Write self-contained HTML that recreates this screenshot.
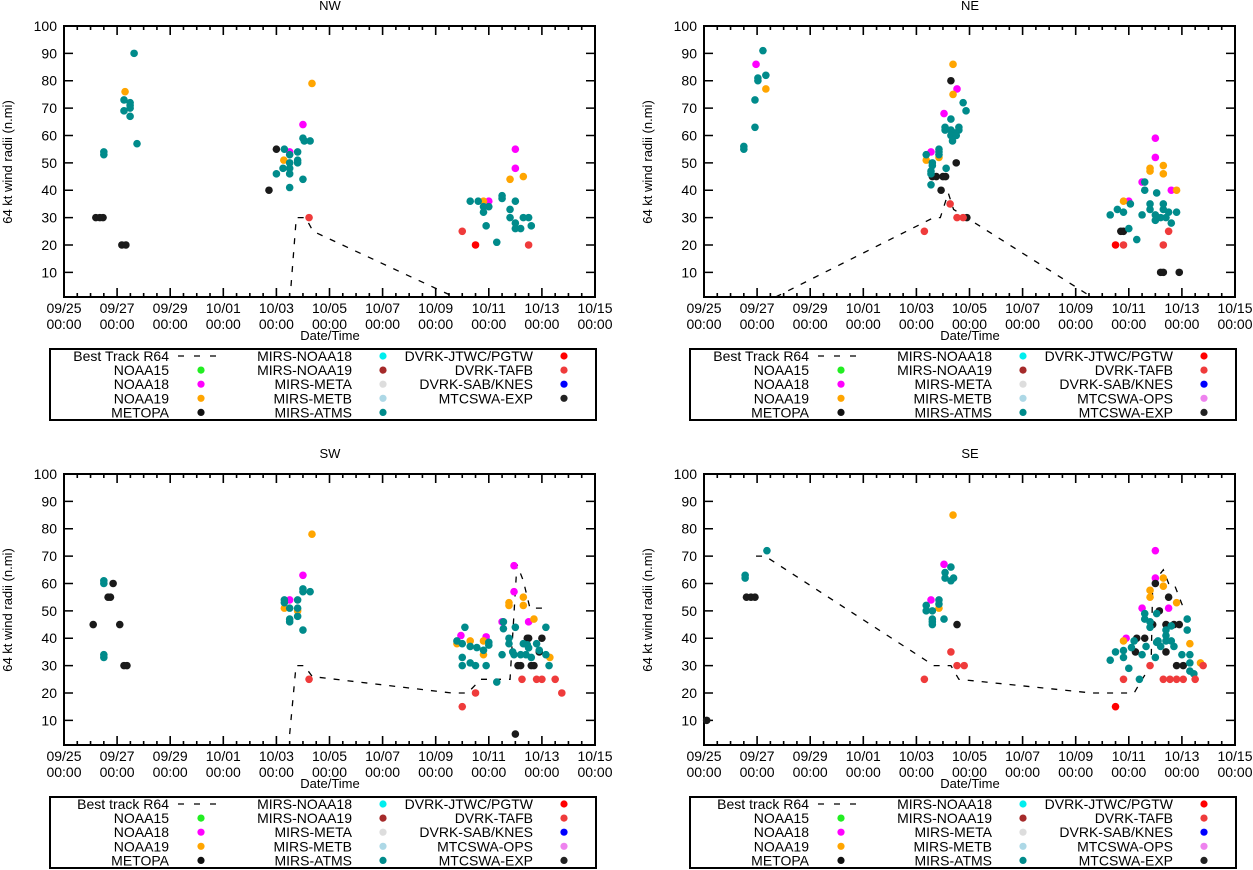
<!DOCTYPE html>
<html><head><meta charset="utf-8">
<style>
html,body{margin:0;padding:0;background:#fff;}
svg{display:block;font-family:"Liberation Sans",sans-serif;}
</style></head>
<body>
<svg id="chart" width="1253" height="870" viewBox="0 0 1253 870" xmlns="http://www.w3.org/2000/svg">
<defs>
<clipPath id="clipL"><rect x="64" y="26" width="531" height="271"/></clipPath>
</defs>
</svg>
<script>
// x values = days since 09/25 00:00, y values = 64 kt wind radii (n.mi)
const xTickLabels = ["09/25","09/27","09/29","10/01","10/03","10/05","10/07","10/09","10/11","10/13","10/15"];
const yTicks = [10,20,30,40,50,60,70,80,90,100];

const NW_bt = [[8.55,5],[8.75,30],[9.1,30],[9.38,25],[14.7,1]];
const NW_n18 = [[8.5,54],[9.0,64],[17.0,55],[17.0,48],[16.0,36]];
const NW_n19 = [[2.3,76],[8.28,51],[9.34,79],[16.8,44],[17.3,45],[15.8,36]];
const NW_blk = [[1.2,30],[1.35,30],[1.47,30],[2.18,20],[2.33,20],[7.72,40],[8.0,55]];
const NW_atms = [[1.5,54],[1.5,53],[2.64,90],[2.26,73],[2.49,72],[2.49,71],[2.26,69],[2.49,70],[2.49,67],[2.75,57],[8.3,55],[8.0,46],[8.25,48],[8.5,50],[8.5,46],[8.5,41],[8.8,51],[8.8,50],[8.8,54],[9.0,44],[9.0,59],[9.27,58],[9.05,58],[8.5,53],[8.5,48],[15.3,36],[15.6,36],[15.8,34],[16.0,34],[15.8,32],[16.5,38],[16.5,37],[17.0,36],[16.8,33],[16.8,30],[17.3,30],[17.5,30],[17.0,28],[17.0,26],[17.2,26],[17.6,27],[15.9,27],[16.3,21]];
const NW_tafb = [[9.23,30],[15.0,25],[17.5,20]];
const NW_jtwc = [[15.5,20]];

const NE_bt = [[2.7,1],[8.65,30],[8.9,30],[9.2,39],[9.4,33],[14.6,1]];
const NE_n18 = [[1.96,86],[9.53,77],[9.04,68],[8.55,54],[17.0,59],[17.0,52],[16.5,43],[17.6,40],[16.0,36]];
const NE_n19 = [[2.33,77],[9.38,86],[9.38,75],[8.37,51],[8.85,52],[16.8,48],[16.8,47],[17.3,49],[17.3,46],[17.8,40],[15.8,36]];
const NE_blk = [[9.3,80],[8.6,45],[8.75,45],[9.0,45],[9.1,45],[9.5,50],[8.93,40],[9.9,30],[15.7,25],[15.8,25],[17.2,10],[17.3,10],[17.9,10]];
const NE_atms = [[1.5,56],[1.5,55],[1.92,63],[1.92,73],[2.03,80],[2.03,81],[2.33,82],[2.22,91],[9.76,72],[9.87,69],[9.3,66],[9.08,63],[9.08,62],[9.3,62],[9.4,61],[9.6,63],[9.6,62],[9.3,60],[9.5,60],[9.36,58],[8.37,53],[8.85,55],[8.85,54],[8.85,53],[8.6,50],[8.6,49],[8.55,47],[9.12,48],[8.55,46],[8.55,42],[16.6,43],[16.6,40],[17.05,39],[16.06,35],[15.57,33],[15.3,31],[15.8,32],[16.5,31],[16.8,35],[16.8,33],[17.3,35],[17.3,33],[17.0,31],[17.0,29],[17.2,30],[17.5,32],[17.8,32],[17.6,28],[17.4,30],[16.0,26],[16.3,22]];
const NE_tafb = [[9.27,35],[9.53,30],[9.76,30],[8.3,25],[15.8,20],[17.5,25],[17.3,20]];
const NE_jtwc = [[15.5,20]];

const SW_bt = [[8.5,5],[8.74,30],[9.05,30],[9.35,26],[14.6,20],[15.2,20],[15.7,25],[16.8,25],[17.06,67],[17.3,61],[17.55,51],[18.2,51]];
const SW_n18 = [[9.0,63],[8.5,54],[16.95,66.5],[16.95,57],[14.95,41],[15.9,40.5],[17.5,46],[16.5,46]];
const SW_n19 = [[9.34,78],[8.3,51],[8.8,50],[16.76,53],[16.76,52],[17.3,55],[17.3,52],[17.7,47],[15.3,39],[15.8,39],[14.8,38],[15.8,34],[18.3,33]];
const SW_blk = [[1.85,60],[1.66,55],[1.75,55],[1.1,45],[2.1,45],[2.26,30],[2.37,30],[17.45,40],[17.5,40],[18.0,40],[17.9,35],[17.1,30],[17.2,30],[17.6,30],[17.7,30],[17.0,5]];
const SW_atms = [[1.5,61],[1.5,60],[1.5,34],[1.5,33],[9.0,58],[9.0,57],[9.27,57],[8.3,54],[8.3,53],[8.5,51],[8.8,54],[8.8,51],[8.8,48],[8.5,47],[8.5,46],[9.0,43],[15.1,44],[14.8,39],[15.0,38],[15.3,37],[15.55,36.6],[15.8,35.6],[16.0,38.5],[16.0,37.5],[15.0,33],[15.0,30],[15.3,31],[15.5,30],[15.9,30],[16.5,34],[16.3,24],[16.55,46],[16.55,43.5],[17.0,44],[16.76,40],[16.76,38],[16.9,35],[16.95,34],[17.2,34],[17.3,38],[17.45,37.6],[17.5,36.5],[17.8,38],[17.9,35.6],[18.15,34],[18.15,44],[18.27,30],[17.4,34],[17.6,33]];
const SW_tafb = [[9.23,25],[17.25,25],[17.8,25],[18.0,25],[18.5,25],[18.75,20],[15.5,20],[15.0,15]];
const SW_jtwc = [];

const SE_bt = [[1.96,70],[2.3,70],[8.66,30],[9.3,30],[9.6,25],[14.6,20],[16.2,20],[16.5,25],[16.84,30],[16.9,60],[17.3,65],[17.5,60],[17.7,60],[18.1,50]];
const SE_n18 = [[9.04,67],[8.55,54],[17.0,72],[17.0,62],[16.5,51],[17.5,51],[15.9,40]];
const SE_n19 = [[9.38,85],[8.85,51],[17.3,62],[17.3,59],[16.8,57.5],[16.8,55],[17.8,53],[15.8,39],[18.3,38],[18.7,31]];
const SE_blk = [[0.1,10],[1.6,55],[1.77,55],[1.92,55],[9.53,45],[17.0,60],[17.5,55],[17.15,50],[16.9,45],[17.4,45],[17.7,45],[17.9,45],[16.3,40],[16.6,40],[16.25,35],[17.4,35],[17.8,30],[18.05,30]];
const SE_atms = [[1.55,63],[1.55,62],[2.37,72],[9.3,66],[9.08,64],[9.08,62],[9.3,61],[9.4,62],[8.85,54],[8.85,52.5],[8.37,52],[8.37,50],[8.6,50],[8.6,47],[8.6,46],[8.6,45],[9.04,47],[16.6,49],[16.6,47],[17.05,49],[16.8,46],[16.8,44],[17.6,44.5],[18.2,47],[18.2,43],[17.4,43],[17.6,39],[17.4,39],[17.7,37],[17.05,38.5],[17.2,37],[16.65,37],[17.1,39],[16.2,39],[16.1,36.6],[15.5,35],[15.8,35.5],[15.8,33],[16.5,34],[17.0,33],[18.0,34],[18.3,34],[18.3,31],[18.3,28],[18.45,27],[15.3,32],[16.0,29],[16.4,25],[17.4,41]];
const SE_tafb = [[9.3,35],[9.53,30],[9.8,30],[8.3,25],[16.8,30],[18.8,30],[15.8,25],[17.3,25],[17.55,25],[17.8,25],[18.05,25],[18.5,25]];
const SE_jtwc = [[15.5,15]];

const NS = "http://www.w3.org/2000/svg";
const svg = document.getElementById("chart");
function mk(tag, attrs, parent){
  const e = document.createElementNS(NS, tag);
  for (const k in attrs) e.setAttribute(k, attrs[k]);
  (parent||svg).appendChild(e);
  return e;
}
const PX0=64, PX1=595, PY0=26, PY1=297, DAYS=20, YMIN=1, YMAX=100;

function drawPanel(key, title, ox, oy, btLabel, col3, sets){
  const g = mk("g",{transform:`translate(${ox},${oy})`});
  
  
  const xs = d => PX0 + d*(PX1-PX0)/DAYS;
  const ys = v => PY1 - (v-YMIN)*(PY1-PY0)/(YMAX-YMIN);

  const t = mk("text",{x:330,y:10,"text-anchor":"middle","font-size":13},g);
  t.textContent = title;
  
  

  const yl = mk("text",{x:0,y:0,"text-anchor":"middle","font-size":13,transform:"translate(12,162) rotate(-90)"},g);
  yl.textContent = "64 kt wind radii (n.mi)";
  
  

  const xl = mk("text",{x:330,y:340,"text-anchor":"middle","font-size":13},g);
  xl.textContent = "Date/Time";
  
  

  let tp = "";
  for (let i=0;i<=DAYS*2;i++){
    const x = xs(i/2), len = (i%4===0)?9:4;
    tp += `M${x},${PY1}v${-len}M${x},${PY0}v${len}`;
  }
  yTicks.forEach(v=>{ const y=ys(v); tp += `M${PX0},${y}h9M${PX1},${y}h-9`; });
  const tk = mk("path",{d:tp,stroke:"#000","stroke-width":1.6,fill:"none"},g);
  
  

  yTicks.forEach(v=>{
    const e = mk("text",{x:57,y:ys(v)+5,"text-anchor":"end","font-size":14},g);
    e.textContent = v;
    
    
  });
  xTickLabels.forEach((lab,i)=>{
    const x = xs(i*2);
    const e = mk("text",{x:x,y:313,"text-anchor":"middle","font-size":14},g);
    e.textContent = lab;
    
    
    const e2 = mk("text",{x:x,y:329,"text-anchor":"middle","font-size":14},g);
    e2.textContent = "00:00";
    
    
  });

  const clipG = mk("g",{"clip-path":"url(#clipL)"},g);
  const bt = mk("polyline",{points:sets.bt.map(p=>xs(p[0])+","+ys(p[1])).join(" "),fill:"none",stroke:"#000","stroke-width":1.3,"stroke-dasharray":"6,8"},clipG);
  
  

  const bd = mk("rect",{x:PX0,y:PY0,width:PX1-PX0,height:PY1-PY0,fill:"none",stroke:"#000","stroke-width":2},g);
  
  

  const ptG = mk("g",{},g);
  const series = [["n18","#ff00ff"],["n19","#ffa500"],["blk","#1a1a1a"],["atms","#008b8b"],["jtwc","#ff0000"],["tafb","#ef3b3b"]];
  series.forEach(([s,c])=>{
    sets[s].forEach(p=>{
      const d = mk("circle",{cx:xs(p[0]),cy:ys(p[1]),r:3.8,fill:c},ptG);
      
      
    });
  });

  const lg = mk("g",{},g);
  
  
  mk("rect",{x:50,y:349,width:546,height:71,fill:"#fff",stroke:"#000","stroke-width":2},lg);
  const cols = [
    {end:169, dot:201, items:[[btLabel,"line"],["NOAA15","#22ee22"],["NOAA18","#ff00ff"],["NOAA19","#ffa500"],["METOPA","#111"]]},
    {end:352, dot:383, items:[["MIRS-NOAA18","#00eeee"],["MIRS-NOAA19","#a52a2a"],["MIRS-META","#dddddd"],["MIRS-METB","#add8e6"],["MIRS-ATMS","#008b8b"]]},
    {end:533, dot:564, items:col3}
  ];
  cols.forEach(c=>{
    c.items.forEach((it,i)=>{
      const y = 356 + i*14.1;
      const tx = mk("text",{x:c.end,y:y+5,"text-anchor":"end","font-size":14},lg);
      tx.textContent = it[0];
      
      
      if (it[1]==="line"){
        const l = mk("line",{x1:178,x2:216,y1:y,y2:y,stroke:"#000","stroke-width":1.3,"stroke-dasharray":"6,10"},lg);
        
        
      } else {
        const d = mk("circle",{cx:c.dot,cy:y,r:3.6,fill:it[1]},lg);
        
        
      }
    });
  });
}

const col3NW = [["DVRK-JTWC/PGTW","#ff0000"],["DVRK-TAFB","#ef3b3b"],["DVRK-SAB/KNES","#0000ff"],["MTCSWA-EXP","#222"]];
const col3All = [["DVRK-JTWC/PGTW","#ff0000"],["DVRK-TAFB","#ef3b3b"],["DVRK-SAB/KNES","#0000ff"],["MTCSWA-OPS","#ee82ee"],["MTCSWA-EXP","#222"]];

drawPanel("nw","NW",0,0,"Best Track R64",col3NW,{bt:NW_bt,n18:NW_n18,n19:NW_n19,blk:NW_blk,atms:NW_atms,tafb:NW_tafb,jtwc:NW_jtwc});
drawPanel("ne","NE",640,0,"Best Track R64",col3All,{bt:NE_bt,n18:NE_n18,n19:NE_n19,blk:NE_blk,atms:NE_atms,tafb:NE_tafb,jtwc:NE_jtwc});
drawPanel("sw","SW",0,448,"Best track R64",col3All,{bt:SW_bt,n18:SW_n18,n19:SW_n19,blk:SW_blk,atms:SW_atms,tafb:SW_tafb,jtwc:SW_jtwc});
drawPanel("se","SE",640,448,"Best track R64",col3All,{bt:SE_bt,n18:SE_n18,n19:SE_n19,blk:SE_blk,atms:SE_atms,tafb:SE_tafb,jtwc:SE_jtwc});
</script>
</body></html>
